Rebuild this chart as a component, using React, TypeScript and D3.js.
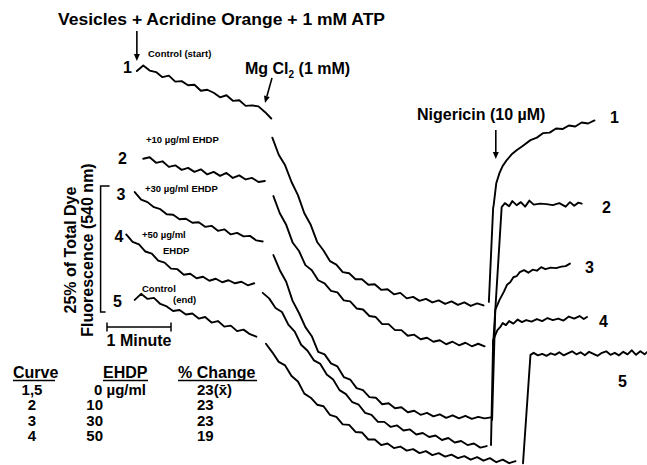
import * as d3 from "d3";

// time in seconds, fluorescence in % of total dye fluorescence (traces offset)
const STEP = 6;

// before MgCl2
const preStart = [28, 34, 26, 18, 26];
const pre1 = [47.8, 48.9, 47.9, 47.6, 46.6, 46.9, 45.7, 45.8, 45.0, 45.1, 43.9, 44.1, 43.5, 42.6, 43.0, 41.9, 42.0, 40.9, 41.0, 40.8, 39.7, 38.4];
const pre2 = [30.4, 30.7, 29.6, 29.9, 28.8, 29.1, 28.2, 28.6, 27.8, 28.3, 27.3, 27.8, 27.0, 27.6, 26.6, 27.1, 26.3, 26.6, 25.8, 26.0];
const pre3 = [23.8, 22.3, 21.8, 20.8, 20.4, 19.4, 19.3, 18.4, 18.5, 17.7, 17.8, 16.9, 17.1, 16.1, 16.4, 15.4, 15.7, 15.0, 15.1, 14.2, 14.0];
const pre4 = [15.4, 13.9, 13.4, 12.0, 11.6, 10.2, 9.8, 8.6, 8.5, 7.4, 7.6, 6.7, 7.0, 6.2, 6.6, 5.9, 6.3, 5.7, 6.0, 5.3, 5.7];
const pre5 = [2.4, 3.6, 2.6, 2.8, 1.6, 1.1, 0.2, 0.4, -0.5, -0.3, -1.3, -1.0, -2.1, -1.8, -2.9, -2.7, -3.8, -3.5, -4.4, -4.9];

// after MgCl2
const postStart = [155, 156, 156, 146, 149];
const post1 = [34.6, 31.2, 29.1, 25.8, 23.2, 19.6, 17.3, 13.9, 12.2, 10.1, 9.4, 7.9, 7.7, 6.5, 6.5, 5.4, 5.5, 4.4, 4.5, 3.5, 3.8, 2.7, 3.0, 2.2, 2.6, 1.9, 2.3, 1.6, 2.1, 1.4, 1.9, 1.2, 1.7, 1.3];
const post2 = [23.0, 19.6, 17.3, 13.8, 12.1, 9.3, 8.3, 6.3, 5.7, 4.2, 3.9, 2.3, 2.1, 0.7, 0.5, -0.8, -1.0, -2.4, -2.4, -3.6, -3.6, -4.7, -4.5, -5.4, -5.1, -5.9, -5.6, -6.4, -5.9, -6.6, -6.1, -6.8, -6.3, -6.8];
const post3 = [11.3, 8.3, 6.0, 2.2, -0.2, -3.0, -4.8, -7.9, -8.4, -10.2, -10.8, -12.9, -13.4, -15.1, -15.5, -16.9, -17.0, -18.3, -18.1, -19.1, -18.9, -19.9, -19.6, -20.4, -20.0, -20.7, -20.3, -21.0, -20.5, -21.1, -20.6, -21.2, -20.8, -21.1, -20.9];
const post4 = [3.8, 2.7, 0.8, 0.0, -2.5, -3.9, -6.5, -7.7, -9.6, -10.3, -12.4, -13.4, -15.5, -16.3, -17.9, -18.4, -20.0, -20.4, -21.8, -21.8, -22.8, -22.5, -23.5, -23.3, -24.3, -24.0, -24.8, -24.5, -25.4, -25.0, -25.9, -25.6, -26.4, -26.1, -26.9, -26.6];
const post5 = [-6.3, -8.0, -9.9, -10.6, -12.7, -13.8, -16.2, -17.0, -18.4, -18.7, -20.4, -20.8, -22.3, -22.4, -23.8, -23.9, -25.3, -25.3, -26.4, -26.1, -27.0, -26.7, -27.5, -27.2, -28.0, -27.6, -28.4, -28.0, -28.7, -28.3, -29.0, -28.6, -29.3, -28.8, -29.5, -29.0, -29.8, -29.3, -30.0, -29.6];

// after nigericin [time, fluorescence]
const nig1 = [[358, 2.0], [362, 20.6], [362.5, 21.2], [365, 25.6], [368, 27.6], [371, 29.0], [375, 30.2], [380, 31.4], [384, 32.1], [390, 33.0], [397, 34.1], [403, 34.6], [409, 35.5], [415, 35.6], [421, 36.4], [427, 36.3], [433, 37.0], [439, 36.8], [445, 37.6], [451, 37.4], [457, 38.0]];
const nig2 = [[362, -6.5], [370, 20.8], [373, 21.6], [377, 21.0], [380, 22.0], [384, 21.2], [388, 21.8], [392, 20.9], [396, 22.1], [400, 21.3], [406, 21.5], [412, 21.4], [418, 21.2], [424, 21.6], [430, 20.9], [434, 21.8], [438, 21.1], [442, 21.7], [445, 21.5]];
const nig3 = [[361, -21.4], [364, 0.4], [368, 2.4], [372, 4.0], [375, 5.4], [378, 5.9], [381, 6.9], [384, 7.1], [387, 7.9], [391, 8.3], [395, 7.8], [399, 8.4], [403, 8.2], [407, 8.9], [411, 8.5], [416, 8.8], [421, 8.7], [426, 9.0], [430, 9.1], [434, 9.6]];
const nig4 = [[360, -26.4], [362, -5.6], [364, -4.6], [366, -3.6], [369, -2.9], [371, -2.2], [374, -2.6], [377, -1.8], [381, -2.3], [385, -1.5], [389, -2.0], [393, -1.6], [398, -1.9], [403, -1.4], [408, -1.8], [413, -1.2], [418, -1.6], [423, -1.3], [428, -1.7], [433, -0.9], [438, -1.3], [443, -0.8], [447, -1.4], [450, -1.0]];
const nig5 = [[390, -30.0], [397, -8.5], [400, -8.1], [404, -8.6], [408, -8.3], [412, -8.7], [416, -8.2], [420, -8.5], [424, -8.0], [428, -8.6], [432, -8.2], [436, -7.8], [440, -8.4], [444, -8.0], [448, -8.6], [452, -7.9], [456, -8.3], [460, -8.7], [464, -8.1], [468, -7.8], [472, -8.5], [476, -8.1], [480, -8.6], [484, -7.9], [488, -8.4], [492, -7.6], [496, -8.5], [500, -7.8], [504, -8.4], [506, -8.0]];

const preTraces = [pre1, pre2, pre3, pre4, pre5];
const postTraces = [post1, post2, post3, post4, post5];
const nigTraces = [nig1, nig2, nig3, nig4, nig5];

const curveNames = ["1,5", "2", "3", "4"];
const ehdpDoses = ["0", "10", "30", "50"];
const pctChange = ["23", "23", "23", "19"];

const W = 647;
const H = 465;
const FONT = "'Liberation Sans', Arial, Helvetica, sans-serif";

const x = d3.scaleLinear().domain([0, 60]).range([107, 171]);
const y = d3.scaleLinear().domain([0, 25]).range([312, 186]);

const line = d3
  .line<number[]>()
  .x((d) => x(d[0]))
  .y((d) => y(d[1]));

const toPoints = (start: number, vals: number[]) =>
  vals.map((v, i) => [start + i * STEP, v]);

function Arrow({ x1, y1, x2, y2 }: { x1: number; y1: number; x2: number; y2: number }) {
  const a = Math.atan2(y2 - y1, x2 - x1);
  const len = 7;
  const w = 3;
  const bx = x2 - len * Math.cos(a);
  const by = y2 - len * Math.sin(a);
  const px = -Math.sin(a) * w;
  const py = Math.cos(a) * w;
  return (
    <g>
      <line x1={x1} y1={y1} x2={bx} y2={by} stroke="#000" strokeWidth={1.6} />
      <path d={`M${x2},${y2}L${bx + px},${by + py}L${bx - px},${by - py}Z`} fill="#000" />
    </g>
  );
}

export default function App() {
  const big = { fontFamily: FONT, fontWeight: 700, fontSize: 16, fill: "#000" } as const;
  const row = { ...big, fontSize: 15 } as const;
  const small = { fontFamily: FONT, fontWeight: 700, fontSize: 9.5, fill: "#000" } as const;
  const rowY = [395, 410, 426, 441];
  const bx = x(-6); // bracket sits just left of the traces

  return (
    <svg width={W} height={H} style={{ position: "absolute", left: 0, top: 0, background: "#fff" }}>
      {/* traces */}
      <g fill="none" stroke="#000" strokeWidth={1.9} strokeLinejoin="round" strokeLinecap="round">
        {preTraces.map((vals, i) => (
          <path key={"pre" + i} d={line(toPoints(preStart[i], vals)) ?? ""} />
        ))}
        {postTraces.map((vals, i) => (
          <path key={"post" + i} d={line(toPoints(postStart[i], vals)) ?? ""} />
        ))}
        {nigTraces.map((pts, i) => (
          <path key={"nig" + i} d={line(pts) ?? ""} />
        ))}
      </g>

      {/* title + additions */}
      <text x={58} y={25} {...big} textLength={327} lengthAdjust="spacingAndGlyphs">
        Vesicles + Acridine Orange + 1 mM ATP
      </text>
      <Arrow x1={x(28)} y1={31} x2={x(28)} y2={61} />
      <text x={148} y={57} {...small}>Control (start)</text>

      <text x={245} y={74} {...big}>
        Mg Cl<tspan fontSize={10} dy={4}>2</tspan>
        <tspan dy={-4}> (1 mM)</tspan>
      </text>
      <Arrow x1={272} y1={78} x2={265} y2={103} />

      <text x={417} y={120} {...big}>Nigericin (10 µM)</text>
      <Arrow x1={x(364.5)} y1={130} x2={x(364.5)} y2={159} />

      {/* left curve labels */}
      <text x={123} y={73} {...big}>1</text>
      <text x={118} y={164} {...big}>2</text>
      <text x={116.5} y={200} {...big}>3</text>
      <text x={114.5} y={242} {...big}>4</text>
      <text x={113} y={307} {...big}>5</text>

      <text x={146} y={143} {...small}>+10 µg/ml EHDP</text>
      <text x={145} y={192} {...small}>+30 µg/ml EHDP</text>
      <text x={142} y={238} {...small}>+50 µg/ml</text>
      <text x={163} y={254} {...small}>EHDP</text>
      <text x={142} y={292} {...small}>Control</text>
      <text x={173} y={303} {...small}>(end)</text>

      {/* right curve labels */}
      <text x={610} y={123} {...big}>1</text>
      <text x={602} y={213} {...big}>2</text>
      <text x={585} y={273} {...big}>3</text>
      <text x={599} y={327} {...big}>4</text>
      <text x={618} y={387} {...big}>5</text>

      {/* 25% bracket */}
      <path
        d={`M${bx + 9},${y(25)}H${bx}V${y(0)}H${bx + 5}`}
        fill="none"
        stroke="#000"
        strokeWidth={1.5}
      />
      <g transform={`translate(76,${(y(0) + y(25)) / 2 + 1}) rotate(-90)`}>
        <text textAnchor="middle" {...big}>25% of Total Dye</text>
      </g>
      <g transform={`translate(93,${(y(0) + y(25)) / 2 + 1}) rotate(-90)`}>
        <text textAnchor="middle" {...big}>Fluorescence (540 nm)</text>
      </g>

      {/* 1 minute bar */}
      <g stroke="#000" strokeWidth={1.5}>
        <line x1={x(0)} x2={x(60)} y1={327} y2={327} />
        <line x1={x(0)} x2={x(0)} y1={322.5} y2={331.5} />
        <line x1={x(60)} x2={x(60)} y1={322.5} y2={331.5} />
      </g>
      <text x={(x(0) + x(60)) / 2} y={346} textAnchor="middle" {...big}>1 Minute</text>

      {/* table */}
      <text x={13} y={378} {...big}>Curve</text>
      <text x={103} y={378} {...big}>EHDP</text>
      <text x={178} y={378} {...big}>% Change</text>
      <g stroke="#000" strokeWidth={1.4}>
        <line x1={13} x2={55} y1={380.5} y2={380.5} />
        <line x1={103} x2={148} y1={380.5} y2={380.5} />
        <line x1={178} x2={257} y1={380.5} y2={380.5} />
      </g>
      {curveNames.map((c, i) => (
        <text key={"c" + i} x={32} y={rowY[i]} textAnchor="middle" {...row}>{c}</text>
      ))}
      {ehdpDoses.map((d, i) =>
        i === 0 ? (
          <text key={"d" + i} x={94} y={rowY[i]} {...row}>{d} µg/ml</text>
        ) : (
          <text key={"d" + i} x={103} y={rowY[i]} textAnchor="end" {...row}>{d}</text>
        )
      )}
      {pctChange.map((p, i) => (
        <text key={"p" + i} x={197} y={rowY[i]} {...row}>{i === 0 ? `${p}(x̄)` : p}</text>
      ))}
    </svg>
  );
}
